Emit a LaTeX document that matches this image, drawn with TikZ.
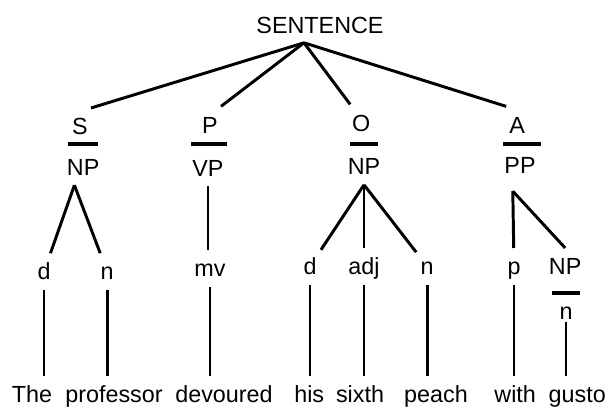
\documentclass[tikz,border=0pt]{standalone}
\usepackage{fontspec}
\setmainfont{Liberation Sans}

\begin{document}
\begin{tikzpicture}[
  font=\fontsize{16.6}{20}\selectfont,
  lbl/.style={inner sep=0pt,outer sep=0pt,text height=11.9pt,text depth=0pt,minimum height=0.92cm,minimum width=0.55cm},
  branch/.style={line width=2.1pt},
  divider/.style={line width=2.8pt}
]

%SPACING
\useasboundingbox (0,0) rectangle (15.2,10.25);
%SPACING

\node[lbl](sent) at (8.00,9.63) {SENTENCE};
\coordinate (hub) at (7.60,9.18);

\node[lbl](S) at (2.00,7.09) {S};
\node[lbl](P) at (5.25,7.13) {P};
\node[lbl](O) at (9.03,7.18) {O};
\node[lbl](A) at (12.93,7.13) {A};

\node[lbl](Snp) at (2.08,6.08) {NP};
\node[lbl](Pvp) at (5.20,6.05) {VP};
\node[lbl](Onp) at (9.10,6.09) {NP};
\node[lbl](App) at (13.00,6.13) {PP};

\node[lbl](d1) at (1.10,3.46) {d};
\node[lbl](n1) at (2.68,3.46) {n};
\node[lbl](mv) at (5.25,3.54) {mv};
\node[lbl](d2) at (7.75,3.59) {d};
\node[lbl](adj) at (9.10,3.59) {adj};
\node[lbl](n2) at (10.68,3.59) {n};
\node[lbl](p) at (12.85,3.59) {p};
\node[lbl](np3) at (14.13,3.59) {NP};
\node[lbl,minimum height=0.5cm](n3) at (14.15,2.46) {n};

\node[lbl](w1) at (0.80,0.39) {The};
\node[lbl](w2) at (2.85,0.39) {professor};
\node[lbl](w3) at (5.60,0.39) {devoured};
\node[lbl](w4) at (7.73,0.39) {his};
\node[lbl](w5) at (9.00,0.39) {sixth};
\node[lbl](w6) at (10.90,0.39) {peach};
\node[lbl](w7) at (12.88,0.39) {with};
\node[lbl](w8) at (14.43,0.39) {gusto};

\draw[divider] (1.70,6.65) -- (2.45,6.65);
\draw[divider] (4.78,6.65) -- (5.68,6.65);
\draw[divider] (8.75,6.65) -- (9.45,6.65);
\draw[divider] (12.58,6.65) -- (13.53,6.65);
\draw[divider] (13.80,2.93) -- (14.50,2.93);

\draw[branch] (hub) -- (S.north east);
\draw[branch] (hub) -- (P.north east);
\draw[branch] (hub) -- (O.north west);
\draw[branch] (hub) -- (A.north west);

\draw[branch] ([xshift=-0.22cm]Snp.south) -- (d1);
\draw[branch] ([xshift=-0.22cm]Snp.south) -- (n1);
\draw[branch] (Pvp.south) -- (Pvp.south |- mv.north);
\draw[branch] (Onp.south) -- (d2);
\draw[branch] (Onp.south) -- (adj);
\draw[branch] (Onp.south) -- (n2);
\draw[branch] ([xshift=-0.18cm,yshift=-0.2cm]App.south) -- (p);
\draw[branch] ([xshift=-0.18cm,yshift=-0.2cm]App.south) -- (np3.north);

\draw[branch] (d1.south) -- (d1.south |- w1.north);
\draw[branch] (n1.south) -- (n1.south |- w2.north);
\draw[branch] (mv.south) -- (mv.south |- w3.north);
\draw[branch] (d2.south) -- (d2.south |- w4.north);
\draw[branch] (adj.south) -- (adj.south |- w5.north);
\draw[branch] (n2.south) -- (n2.south |- w6.north);
\draw[branch] (p.south) -- (p.south |- w7.north);
\draw[branch] (n3.south) -- (n3.south |- w8.north);

\end{tikzpicture}
\end{document}
